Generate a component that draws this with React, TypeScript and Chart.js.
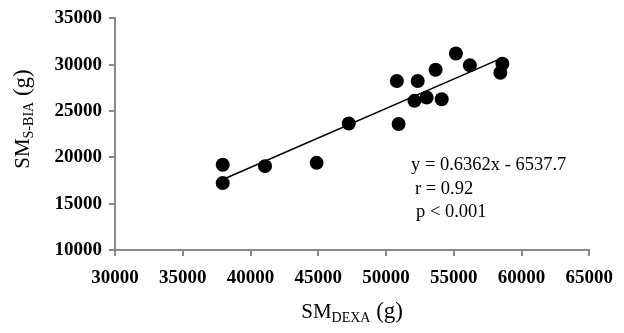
import React, { useEffect, useRef } from "react";
import { Chart, registerables } from "chart.js";

Chart.register(...registerables);

// SM by DEXA (g) vs SM by S-BIA (g)
const smDexa = [37950, 37950, 41070, 44880, 47250, 50800, 50930, 52340, 52100, 53000, 53660, 54110, 55160, 56190, 58590, 58440];
const smSBia = [19200, 17220, 19050, 19410, 23660, 28240, 23600, 28240, 26100, 26450, 29450, 26270, 31210, 29930, 30100, 29130];
const xTicks = [30000, 35000, 40000, 45000, 50000, 55000, 60000, 65000];
const yTicks = [10000, 15000, 20000, 25000, 30000, 35000];
const slope = 0.6362;
const intercept = -6537.7;
const statLines = ["y = 0.6362x - 6537.7", "r = 0.92", "p < 0.001"];
const xTitleParts = [
  { text: "SM", size: 21, sub: false },
  { text: "DEXA", size: 14, sub: true },
  { text: " (g)", size: 23, sub: false },
];
const yTitleParts = [
  { text: "SM", size: 21, sub: false },
  { text: "S-BIA", size: 14, sub: true },
  { text: " (g)", size: 23, sub: false },
];

const SERIF = "'Liberation Serif', 'Times New Roman', serif";

function drawParts(ctx: CanvasRenderingContext2D, parts: { text: string; size: number; sub: boolean }[], cx: number, baseline: number) {
  let total = 0;
  const widths = parts.map((p) => {
    ctx.font = `${p.size}px ${SERIF}`;
    const w = ctx.measureText(p.text).width;
    total += w;
    return w;
  });
  let x = cx - total / 2;
  parts.forEach((p, i) => {
    ctx.font = `${p.size}px ${SERIF}`;
    ctx.fillText(p.text, x, baseline + (p.sub ? 4 : 0));
    x += widths[i];
  });
}

const textPlugin = {
  id: "texts",
  afterDraw(chart: any) {
    const ctx: CanvasRenderingContext2D = chart.ctx;
    const ca = chart.chartArea;
    ctx.save();
    ctx.fillStyle = "#000";
    ctx.textBaseline = "alphabetic";
    ctx.textAlign = "left";
    // x title
    drawParts(ctx, xTitleParts, (ca.left + ca.right) / 2, 318);
    // y title
    ctx.save();
    ctx.translate(29, 119);
    ctx.rotate(-Math.PI / 2);
    drawParts(ctx, yTitleParts, 0, 0);
    ctx.restore();
    // stats
    ctx.font = `18.5px ${SERIF}`;
    const xs = [411, 415, 416];
    const ys = [170, 193.5, 217];
    statLines.forEach((t, i) => ctx.fillText(t, xs[i], ys[i]));
    ctx.restore();
  },
};

export default function App() {
  const ref = useRef<HTMLCanvasElement>(null);
  useEffect(() => {
    document.body.style.margin = "0";
    const xMin = Math.min(...smDexa);
    const xMax = Math.max(...smDexa);
    const chart = new Chart(ref.current!, {
      type: "scatter",
      data: {
        datasets: [
          {
            type: "scatter",
            data: smDexa.map((x, i) => ({ x, y: smSBia[i] })),
            pointRadius: 7,
            pointBackgroundColor: "#000",
            pointBorderWidth: 0,
            order: 1,
          },
          {
            type: "line",
            data: [
              { x: xMin, y: slope * xMin + intercept },
              { x: xMax, y: slope * xMax + intercept },
            ],
            borderColor: "#000",
            borderWidth: 1.6,
            pointRadius: 0,
            fill: false,
            order: 0,
          } as any,
        ],
      },
      plugins: [textPlugin],
      options: {
        responsive: false,
        animation: false,
        events: [],
        layout: { padding: { left: 0, top: 17, right: 29, bottom: 0 } },
        plugins: { legend: { display: false }, tooltip: { enabled: false } },
        scales: {
          x: {
            type: "linear",
            min: xTicks[0],
            max: xTicks[xTicks.length - 1],
            afterBuildTicks: (s: any) => {
              s.ticks = xTicks.map((v) => ({ value: v }));
            },
            afterFit: (s: any) => {
              s.height = 83;
            },
            ticks: {
              color: "#000",
              padding: 11,
              maxRotation: 0,
              font: { family: SERIF, size: 19, weight: "bold" },
              callback: (v: any) => String(v),
            },
            grid: { display: true, drawOnChartArea: false, drawTicks: true, tickLength: 6, color: "#8a8a8a", lineWidth: 2 },
            border: { display: true, color: "#8a8a8a", width: 2 },
          },
          y: {
            type: "linear",
            min: yTicks[0],
            max: yTicks[yTicks.length - 1],
            afterBuildTicks: (s: any) => {
              s.ticks = yTicks.map((v) => ({ value: v }));
            },
            afterFit: (s: any) => {
              s.width = 115;
            },
            ticks: {
              color: "#000",
              padding: 7,
              font: { family: SERIF, size: 19, weight: "bold" },
              callback: (v: any) => String(v),
            },
            grid: { display: true, drawOnChartArea: false, drawTicks: true, tickLength: 6, color: "#8a8a8a", lineWidth: 2 },
            border: { display: true, color: "#8a8a8a", width: 2 },
          },
        },
      } as any,
    });
    return () => chart.destroy();
  }, []);
  return (
    <div style={{ width: 624, height: 333 }}>
      <canvas ref={ref} width={624} height={333} />
    </div>
  );
}
